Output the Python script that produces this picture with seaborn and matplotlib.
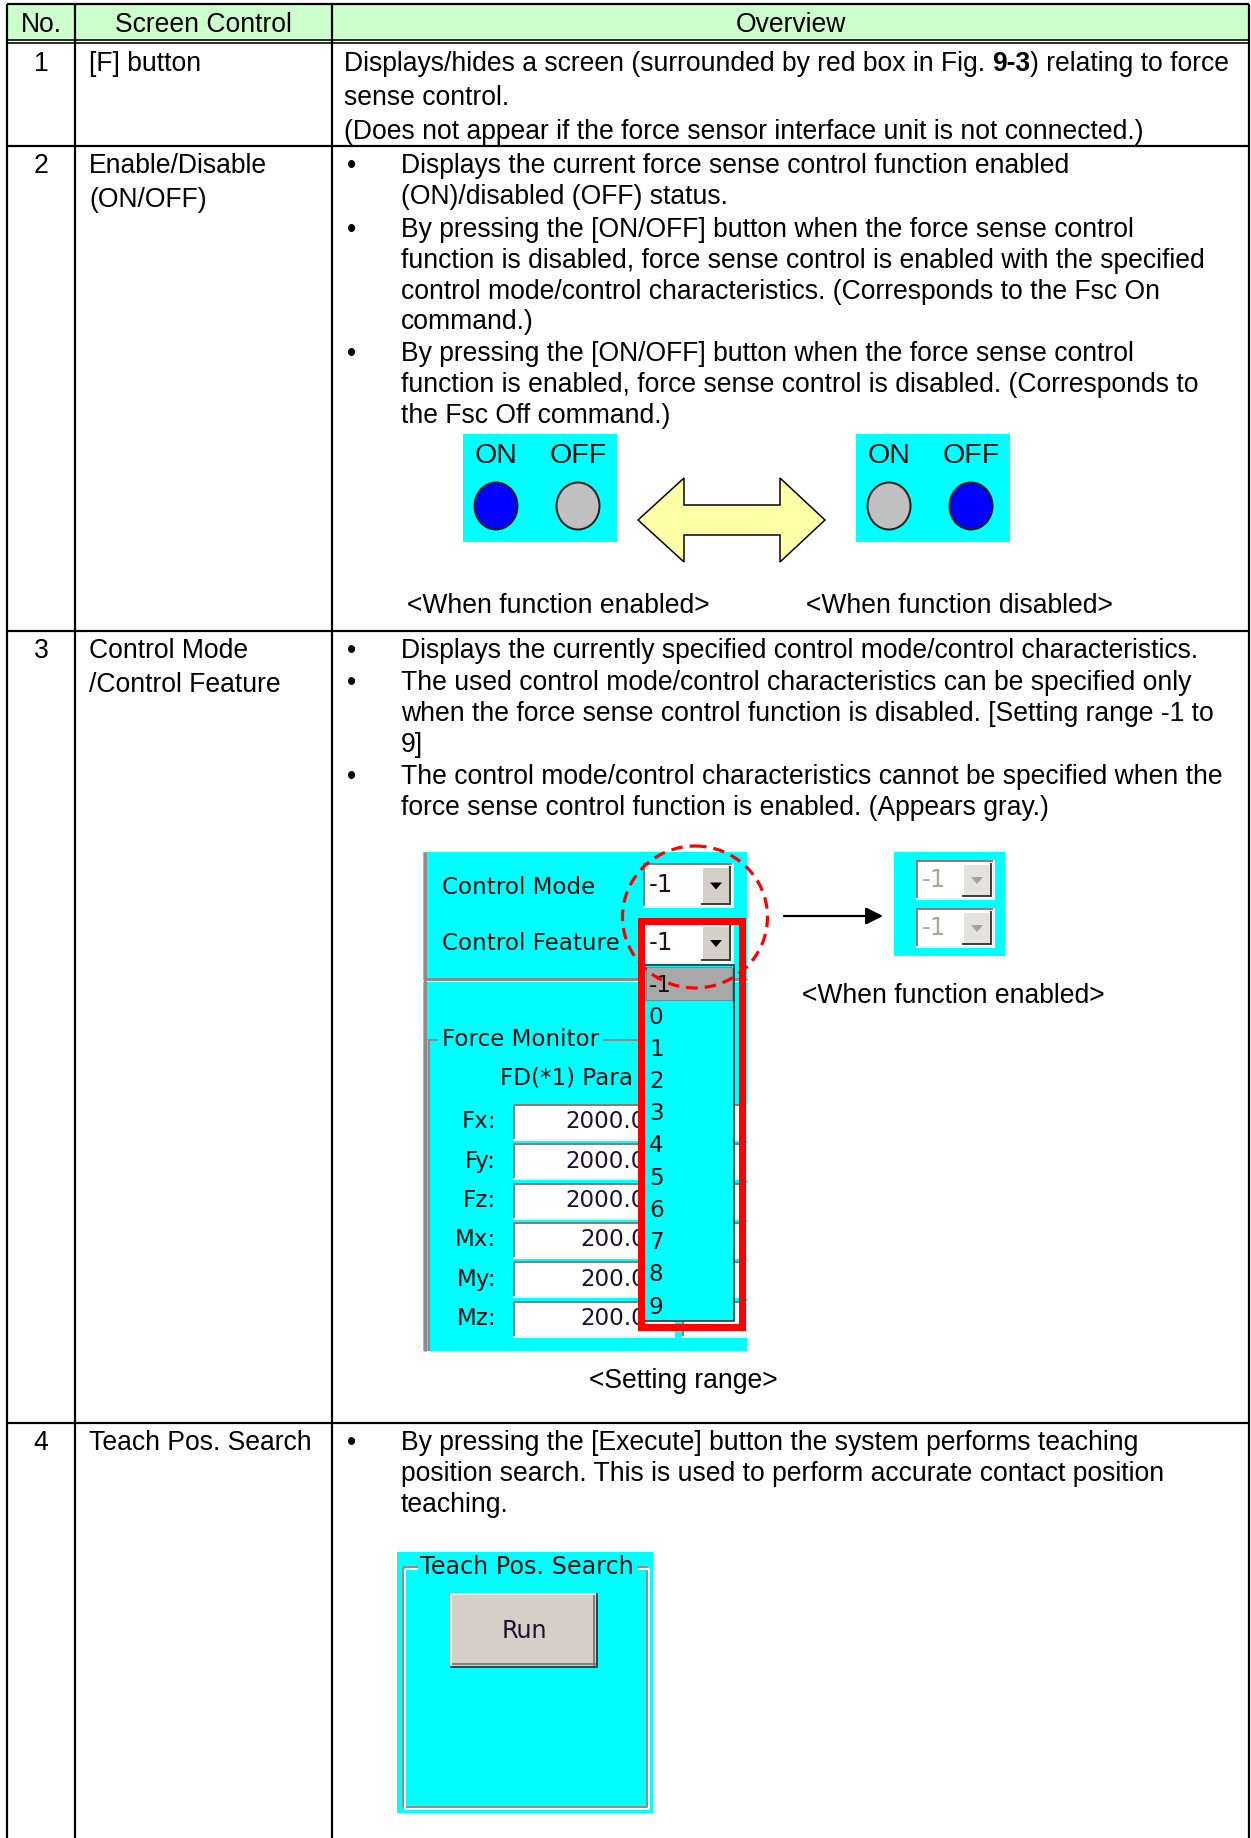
import matplotlib
matplotlib.use("Agg")
import matplotlib.pyplot as plt
from matplotlib import font_manager as fm
from matplotlib.patches import Rectangle, Ellipse, Polygon
import seaborn as sns

W, H = 1251, 1838
PX = 0.72  # points per pixel at dpi=100

# ---- table content ----
HEADERS = ["No.", "Screen Control", "Overview"]
ROW_NO = ["1", "2", "3", "4"]
CONTROL_NAMES = [
    ["[F] button"],
    ["Enable/Disable", "(ON/OFF)"],
    ["Control Mode", "/Control Feature"],
    ["Teach Pos. Search"],
]
ROW1_LINES = [
    [("Displays/hides a screen (surrounded by red box in Fig. ", "normal"), ("9-3", "bold"),
     (") relating to force", "normal")],
    [("sense control.", "normal")],
    [("(Does not appear if the force sensor interface unit is not connected.)", "normal")],
]
ROW2_BULLETS = [
    ["Displays the current force sense control function enabled",
     "(ON)/disabled (OFF) status."],
    ["By pressing the [ON/OFF] button when the force sense control",
     "function is disabled, force sense control is enabled with the specified",
     "control mode/control characteristics. (Corresponds to the Fsc On",
     "command.)"],
    ["By pressing the [ON/OFF] button when the force sense control",
     "function is enabled, force sense control is disabled. (Corresponds to",
     "the Fsc Off command.)"],
]
ROW3_BULLETS = [
    ["Displays the currently specified control mode/control characteristics."],
    ["The used control mode/control characteristics can be specified only",
     "when the force sense control function is disabled. [Setting range -1 to",
     "9]"],
    ["The control mode/control characteristics cannot be specified when the",
     "force sense control function is enabled. (Appears gray.)"],
]
ROW4_BULLETS = [
    ["By pressing the [Execute] button the system performs teaching",
     "position search. This is used to perform accurate contact position",
     "teaching."],
]
SWITCH_LABELS = ["ON", "OFF"]
SWITCH_ENABLED = ["#0000FF", "#C0C0C0"]
SWITCH_DISABLED = ["#C0C0C0", "#0000FF"]
CAPTIONS_ROW2 = ["<When function enabled>", "<When function disabled>"]
COMBO_LABELS = ["Control Mode", "Control Feature"]
COMBO_VALUE = "-1"
DROPDOWN_ITEMS = ["-1", "0", "1", "2", "3", "4", "5", "6", "7", "8", "9"]
MONITOR_TITLE = "Force Monitor"
MONITOR_HEADER = "FD(*1) Para"
AXIS_LABELS = ["Fx:", "Fy:", "Fz:", "Mx:", "My:", "Mz:"]
AXIS_VALUES = ["2000.0", "2000.0", "2000.0", "200.0", "200.0", "200.0"]
CAPTION_ENABLED = "<When function enabled>"
CAPTION_RANGE = "<Setting range>"
TEACH_TITLE = "Teach Pos. Search"
TEACH_BUTTON = "Run"

# ---- styling ----
sns.set_theme(style="white")
plt.rcParams["font.family"] = ["Liberation Sans", "DejaVu Sans"]
names = {f.name for f in fm.fontManager.ttflist}
NARROW = "Liberation Sans Narrow" if "Liberation Sans Narrow" in names else "Liberation Sans"
GUI = "DejaVu Sans"

BODY_FS = 19.1
GUI_FS = 16.6
CYAN = "#00FFFF"
BTN = "#D4D0C8"
INK = "#000000"

X_COLS = [7, 75, 332, 1249]
Y_ROWS = [4, 41, 146, 631, 1423]

fig = plt.figure(figsize=(W / 100, H / 100), dpi=100)
ax = fig.add_axes([0, 0, 1, 1])
ax.set_xlim(0, W)
ax.set_ylim(H, 0)
ax.axis("off")
renderer = fig.canvas.get_renderer()


def text_width(s, **kw):
    t = ax.text(0, 0, s, **kw)
    w = t.get_window_extent(renderer=renderer).width
    t.remove()
    return w


def runs(x, y, parts, **kw):
    space = text_width("a a", **kw) - text_width("aa", **kw)
    for s, weight in parts:
        lead = len(s) - len(s.lstrip(" "))
        trail = len(s) - len(s.rstrip(" "))
        x += lead * space
        core = s.strip(" ")
        t = ax.text(x, y, core, fontweight=weight, **kw)
        x += t.get_window_extent(renderer=renderer).width + trail * space


def bullets(starts, groups, step):
    for y, grp in zip(starts, groups):
        ax.text(347, y, "\u2022", fontsize=BODY_FS, va="center", ha="left", color=INK)
        for line in grp:
            ax.text(401, y, line, fontsize=BODY_FS, va="center", ha="left", color=INK)
            y += step


def hline(x0, x1, y, c, lw=1, z=3):
    ax.plot([x0, x1], [y, y], color=c, lw=lw * PX, zorder=z, solid_capstyle="butt")


def vline(x, y0, y1, c, lw=1, z=3):
    ax.plot([x, x], [y0, y1], color=c, lw=lw * PX, zorder=z, solid_capstyle="butt")


def bevel(x0, y0, x1, y1, raised, z=3):
    light, dark = ("#FFFFFF", "#404040") if raised else ("#808080", "#F0F0F0")
    hline(x0, x1, y0 + 1, light, 2, z)
    vline(x0 + 1, y0, y1, light, 2, z)
    hline(x0, x1, y1 - 1, dark, 2, z)
    vline(x1 - 1, y0, y1, dark, 2, z)


def combo(x0, y0, x1, y1, value, disabled=False, z=3):
    ax.add_patch(Rectangle((x0, y0), x1 - x0, y1 - y0, fc="#FFFFFF", ec="none", zorder=z))
    bevel(x0, y0, x1, y1, raised=False, z=z + 0.1)
    bx0, bx1 = x1 - 33, x1 - 3
    ax.add_patch(Rectangle((bx0, y0 + 3), bx1 - bx0, y1 - y0 - 6, fc=BTN if not disabled else "#E4E2DC",
                           ec="none", zorder=z + 0.2))
    bevel(bx0, y0 + 3, bx1, y1 - 3, raised=True, z=z + 0.3)
    cx, cy = (bx0 + bx1) / 2, (y0 + y1) / 2
    ax.add_patch(Polygon([(cx - 6, cy - 3), (cx + 6, cy - 3), (cx, cy + 4)], closed=True,
                         fc="#A0A0A0" if disabled else INK, ec="none", zorder=z + 0.4))
    ax.text(x0 + 6, cy, value, fontsize=GUI_FS + 1, family=GUI, va="center", ha="left",
            color="#ACA899" if disabled else "#201018", zorder=z + 0.4)


# ---- table frame ----
ax.add_patch(Rectangle((X_COLS[0], Y_ROWS[0]), X_COLS[-1] - X_COLS[0], Y_ROWS[1] - Y_ROWS[0],
                       fc="#CCFFCC", ec="none", zorder=1))
for x in X_COLS:
    vline(x, Y_ROWS[0], H, INK, 2.2, 5)
hline(X_COLS[0], X_COLS[-1], Y_ROWS[0], INK, 2.2, 5)
hline(X_COLS[0], X_COLS[-1], Y_ROWS[1] - 1.5, INK, 1.6, 5)
hline(X_COLS[0], X_COLS[-1], Y_ROWS[1] + 1.5, INK, 1.6, 5)
for y in Y_ROWS[2:]:
    hline(X_COLS[0], X_COLS[-1], y, INK, 2.2, 5)

for i, h in enumerate(HEADERS):
    ax.text((X_COLS[i] + X_COLS[i + 1]) / 2, 25, h, fontsize=BODY_FS, ha="center", va="center", color=INK)

ROW_TOPS = [64, 166, 651, 1443]
for no, names_, y in zip(ROW_NO, CONTROL_NAMES, ROW_TOPS):
    ax.text(41, y, no, fontsize=BODY_FS, ha="center", va="center", color=INK)
    for k, nm in enumerate(names_):
        ax.text(89, y + k * 34, nm, fontsize=BODY_FS, ha="left", va="center", color=INK)

# ---- row 1 ----
for k, parts in enumerate(ROW1_LINES):
    runs(344, 64 + k * 34, parts, fontsize=BODY_FS, va="center", ha="left", color=INK)

# ---- row 2 ----
bullets([166, 230, 354], ROW2_BULLETS, 30.8)
for bx, fills in [(463, SWITCH_ENABLED), (856, SWITCH_DISABLED)]:
    ax.add_patch(Rectangle((bx, 434), 154, 108, fc=CYAN, ec="none", zorder=2))
    for j, (lab, fc) in enumerate(zip(SWITCH_LABELS, fills)):
        cx = bx + 33 + j * 82
        ax.text(cx, 456, lab, fontsize=20.5, family=NARROW, ha="center", va="center", color="#101010", zorder=3)
        ax.add_patch(Ellipse((cx, 506), 43, 47, fc=fc, ec="#202020", lw=2 * PX, zorder=3))
ax.add_patch(Polygon([(638, 520), (684, 478), (684, 505), (780, 505), (780, 478), (825, 520),
                      (780, 562), (780, 535), (684, 535), (684, 562)], closed=True,
                     fc="#FFFFA8", ec=INK, lw=1.5 * PX, zorder=3))
for cx, cap in zip([558, 959], CAPTIONS_ROW2):
    ax.text(cx, 606, cap, fontsize=BODY_FS, ha="center", va="center", color=INK)

# ---- row 3 ----
bullets([651, 683, 777], ROW3_BULLETS, 31.2)

# upper panel with the two combos
ax.add_patch(Rectangle((423, 852), 324, 127, fc=CYAN, ec="none", zorder=2))
ax.add_patch(Rectangle((423, 982), 324, 369, fc=CYAN, ec="none", zorder=2))
vline(424.5, 852, 1351, "#8C8C8C", 3, 3)
hline(423, 747, 979, "#8C8C8C", 3, 3)
for k, lab in enumerate(COMBO_LABELS):
    ax.text(442, 888 + k * 56, lab, fontsize=GUI_FS, family=GUI, ha="left", va="center", color="#001010", zorder=3)
combo(643, 863, 734, 908, COMBO_VALUE, z=6)
combo(643, 922, 734, 964, COMBO_VALUE, z=6)

# force monitor group
clip = Rectangle((423, 982), 216, 369, transform=ax.transData)
hline(428, 438, 1040, "#8C8C8C", 2, 3)
hline(603, 640, 1040, "#8C8C8C", 2, 3)
vline(429, 1040, 1351, "#8C8C8C", 2, 3)
ax.text(442, 1040, MONITOR_TITLE, fontsize=GUI_FS, family=GUI, ha="left", va="center", color="#001010", zorder=3)
t = ax.text(500, 1078, MONITOR_HEADER, fontsize=GUI_FS, family=GUI, ha="left", va="center",
            color="#001010", zorder=3, clip_on=True)
t.set_clip_path(clip)
for k, (lab, val) in enumerate(zip(AXIS_LABELS, AXIS_VALUES)):
    y = 1122 + k * 39.3
    ax.text(496, y, lab, fontsize=GUI_FS, family=GUI, ha="right", va="center", color="#001010", zorder=3)
    for x0, x1 in [(513, 675), (682, 747)]:
        ax.add_patch(Rectangle((x0, y - 18), x1 - x0, 37, fc="#FFFFFF", ec="none", zorder=3))
        bevel(x0, y - 18, x1, y + 19, raised=False, z=3.1)
    t = ax.text(646, y, val, fontsize=GUI_FS, family=GUI, ha="right", va="center",
                color="#1A1030", zorder=3.2, clip_on=True)
    t.set_clip_path(clip)

# dropdown list
ax.add_patch(Rectangle((644, 965), 90, 356, fc=CYAN, ec="#202020", lw=1.5 * PX, zorder=6))
ax.add_patch(Rectangle((646, 967), 86, 33, fc="#A8A8A8", ec="#606060", lw=1 * PX, ls=(0, (1, 1)), zorder=6.1))
for k, item in enumerate(DROPDOWN_ITEMS):
    ax.text(649, 985 + k * 32.2, item, fontsize=GUI_FS, family=GUI, ha="left", va="center", color="#101010", zorder=6.2)
ax.add_patch(Rectangle((640.5, 920.5), 101, 406, fc="none", ec="#FF0000", lw=7 * PX, zorder=7))
ax.add_patch(Ellipse((695, 917), 145, 142, fc="none", ec="#FF0000", lw=3.2 * PX,
                     ls=(0, (3.6, 2.2)), zorder=8))

# arrow and disabled combos
ax.annotate("", xy=(883, 916), xytext=(784, 916),
            arrowprops=dict(arrowstyle="-|>", color=INK, lw=2.2 * PX, mutation_scale=26, shrinkA=0, shrinkB=0))
ax.add_patch(Rectangle((894, 852), 111, 104, fc=CYAN, ec="none", zorder=2))
combo(916, 860, 995, 900, COMBO_VALUE, disabled=True, z=3)
combo(916, 908, 995, 948, COMBO_VALUE, disabled=True, z=3)
ax.text(953, 996, CAPTION_ENABLED, fontsize=BODY_FS, ha="center", va="center", color=INK)
ax.text(683, 1381, CAPTION_RANGE, fontsize=BODY_FS, ha="center", va="center", color=INK)

# ---- row 4 ----
bullets([1443], ROW4_BULLETS, 30.8)
ax.add_patch(Rectangle((397, 1552), 256, 261, fc=CYAN, ec="none", zorder=2))
for c, off in [("#909090", 0), ("#FFFFFF", 2)]:
    hline(403 + off, 418, 1567 + off, c, 2, 3)
    hline(637, 647 + off, 1567 + off, c, 2, 3)
    vline(403 + off, 1567 + off, 1807 + off, c, 2, 3)
    vline(647 + off, 1567 + off, 1807 + off, c, 2, 3)
    hline(403 + off, 647 + off, 1807 + off, c, 2, 3)
ax.add_patch(Rectangle((418, 1555), 219, 24, fc=CYAN, ec="none", zorder=3.5))
ax.text(527, 1567, TEACH_TITLE, fontsize=GUI_FS + 0.6, family=GUI, ha="center", va="center", color="#001010", zorder=4)
ax.add_patch(Rectangle((450, 1593), 148, 75, fc=BTN, ec="none", zorder=3))
bevel(450, 1593, 598, 1668, raised=True, z=3.1)
hline(452, 596, 1664, "#808080", 2, 3.2)
vline(594, 1595, 1666, "#808080", 2, 3.2)
ax.text(524, 1631, TEACH_BUTTON, fontsize=GUI_FS + 0.6, family=GUI, ha="center", va="center", color="#201030", zorder=4)

fig.savefig("out.png", dpi=100, facecolor="white")
